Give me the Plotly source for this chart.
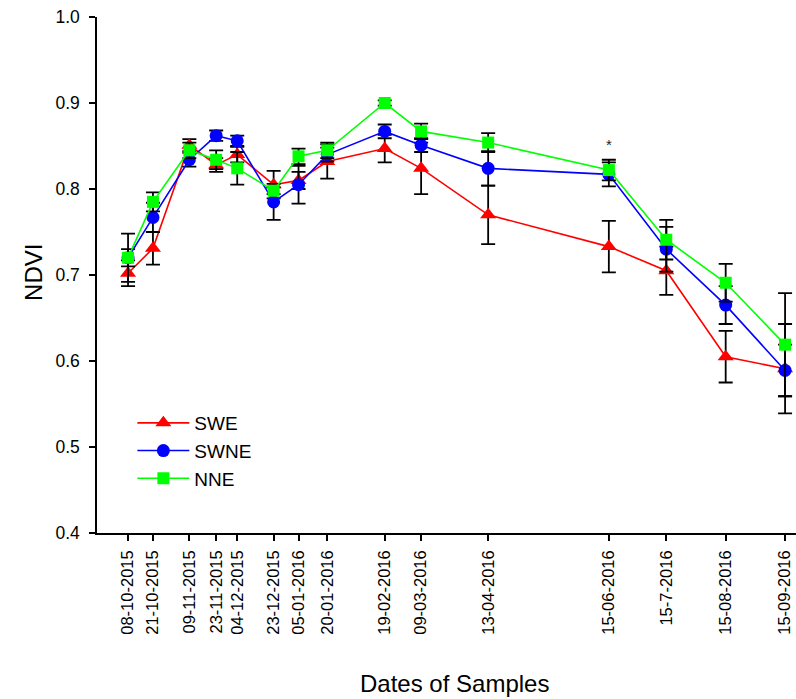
import plotly.graph_objects as go

# Sampling dates and their axis labels
dates = ["2015-10-08", "2015-10-21", "2015-11-09", "2015-11-23", "2015-12-04",
         "2015-12-23", "2016-01-05", "2016-01-20", "2016-02-19", "2016-03-09",
         "2016-04-13", "2016-06-15", "2016-07-15", "2016-08-15", "2016-09-15"]
date_labels = ["08-10-2015", "21-10-2015", "09-11-2015", "23-11-2015", "04-12-2015",
               "23-12-2015", "05-01-2016", "20-01-2016", "19-02-2016", "09-03-2016",
               "13-04-2016", "15-06-2016", "15-7-2016", "15-08-2016", "15-09-2016"]

# Mean NDVI per site
swe = [0.702, 0.731, 0.851, 0.828, 0.840, 0.805, 0.810, 0.832, 0.847, 0.824,
       0.770, 0.733, 0.705, 0.605, 0.591]
swne = [0.720, 0.767, 0.834, 0.862, 0.856, 0.785, 0.805, 0.840, 0.867, 0.851,
        0.824, 0.817, 0.730, 0.665, 0.589]
nne = [0.720, 0.785, 0.845, 0.834, 0.824, 0.798, 0.838, 0.845, 0.900, 0.867,
       0.854, 0.822, 0.741, 0.691, 0.619]

# Standard errors
swe_err = [0.015, 0.019, 0.007, 0.008, 0.009, 0.016, 0.010, 0.020, 0.016, 0.030,
           0.034, 0.030, 0.028, 0.030, 0.052]
swne_err = [0.010, 0.017, 0.008, 0.006, 0.006, 0.021, 0.022, 0.008, 0.008, 0.008,
            0.020, 0.014, 0.026, 0.022, 0.030]
nne_err = [0.028, 0.011, 0.009, 0.011, 0.019, 0.004, 0.009, 0.009, 0.003, 0.009,
           0.011, 0.012, 0.023, 0.022, 0.060]

series = [
    ("SWE", swe, swe_err, "#ff0000", "triangle-up", 14),
    ("SWNE", swne, swne_err, "#0000ff", "circle", 13),
    ("NNE", nne, nne_err, "#00ff00", "square", 12),
]

fig = go.Figure()
for name, vals, errs, color, symbol, size in series:
    fig.add_trace(go.Scatter(
        x=dates, y=vals, name=name, mode="lines+markers",
        line=dict(color=color, width=1.6),
        marker=dict(color=color, symbol=symbol, size=size, line=dict(width=0)),
        error_y=dict(type="data", array=errs, visible=True,
                     color="black", thickness=1.8, width=7),
    ))

# Significance mark
fig.add_annotation(x="2016-06-15", y=0.8515, text="*", showarrow=False,
                   font=dict(size=15, color="#222222"), yanchor="middle")

# Axis titles
fig.add_annotation(xref="paper", yref="paper", x=0.512, y=-0.2926,
                   text="Dates of Samples", showarrow=False,
                   font=dict(size=24), xanchor="center", yanchor="middle")
fig.add_annotation(xref="paper", yref="paper", x=-0.0901, y=0.504,
                   text="NDVI", showarrow=False, textangle=-90,
                   font=dict(size=24), xanchor="center", yanchor="middle")

font_family = "Liberation Sans, Arial, sans-serif"
fig.update_layout(
    width=796, height=699,
    margin=dict(l=97, r=0, t=17, b=166),
    paper_bgcolor="white", plot_bgcolor="white",
    font=dict(family=font_family, color="black"),
    showlegend=True,
    legend=dict(x=0.0506, y=0.250, xanchor="left", yanchor="top",
                bgcolor="rgba(0,0,0,0)", font=dict(size=19),
                tracegroupgap=0, itemwidth=52),
    xaxis=dict(
        type="date",
        range=["2015-09-21 19:00", "2016-09-20 17:00"],
        tickmode="array", tickvals=dates, ticktext=date_labels,
        tickangle=-90, tickfont=dict(size=16.5),
        ticks="outside", ticklen=6, tickwidth=1.5, tickcolor="black",
        ticklabelstandoff=3,
        showline=True, linecolor="black", linewidth=1.5,
        showgrid=False, zeroline=False,
    ),
    yaxis=dict(
        range=[0.4, 1.0],
        tickmode="array", tickvals=[0.4, 0.5, 0.6, 0.7, 0.8, 0.9, 1.0],
        tickformat=".1f", tickfont=dict(size=17.5),
        ticks="outside", ticklen=6, tickwidth=1.5, tickcolor="black",
        ticklabelstandoff=6,
        showline=True, linecolor="black", linewidth=1.5,
        showgrid=False, zeroline=False,
    ),
)

fig.write_html("out.html")
